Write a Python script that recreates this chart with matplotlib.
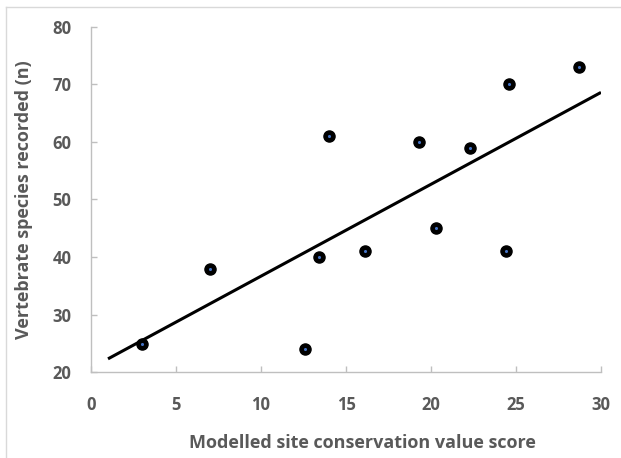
import numpy as np
import matplotlib
matplotlib.use("Agg")
import matplotlib.pyplot as plt
from matplotlib.lines import Line2D

# data
score = [3.0, 7.0, 12.6, 13.4, 14.0, 16.1, 19.3, 20.3, 22.3, 24.4, 24.6, 28.7]
species = [25, 38, 24, 40, 61, 41, 60, 45, 59, 41, 70, 73]
x_ticks = [0, 5, 10, 15, 20, 25, 30]
y_ticks = [20, 30, 40, 50, 60, 70, 80]

plt.rcParams["font.family"] = ["Open Sans", "DejaVu Sans"]
text_col = "#595959"
axis_col = "#BFBFBF"

fig = plt.figure(figsize=(6.21, 4.58), dpi=100)
ax = fig.add_axes([91 / 621, 1 - 372.3 / 458, 510 / 621, (372.3 - 26.7) / 458])

# trend line (least squares), drawn from x=1 to x=30
slope, intercept = np.polyfit(score, species, 1)
xs = np.array([1, 30])
ax.plot(xs, slope * xs + intercept, color="black", lw=2.2, solid_capstyle="butt", zorder=2)

ax.scatter(score, species, s=64, color="black", zorder=3)
ax.scatter(score, species, s=1.5, color="#4472C4", zorder=4)

ax.set_xlim(0, 30)
ax.set_ylim(20, 80)
ax.set_xticks(x_ticks)
ax.set_yticks(y_ticks)

for side in ["top", "right"]:
    ax.spines[side].set_visible(False)
for side in ["left", "bottom"]:
    ax.spines[side].set_color(axis_col)
    ax.spines[side].set_linewidth(1)

ax.tick_params(direction="in", length=4, width=1, color=axis_col,
               labelsize=12, labelcolor=text_col)
for lab in ax.get_xticklabels() + ax.get_yticklabels():
    lab.set_fontweight("bold")
ax.tick_params(axis="y", pad=14)
ax.tick_params(axis="x", pad=17)

ax.set_xlabel("Modelled site conservation value score", fontsize=13,
              fontweight="bold", color=text_col, va="center")
ax.xaxis.set_label_coords(0.533, -0.205)
ax.set_ylabel("Vertebrate species recorded (n)", fontsize=13,
              fontweight="bold", color=text_col, labelpad=14)

# light border round the chart area
W, H = 621, 458
fig.add_artist(Line2D([5.5 / W, 5.5 / W], [0, 1 - 7 / H], transform=fig.transFigure,
                      color="#D9D9D9", lw=1))
fig.add_artist(Line2D([5.5 / W, 1], [1 - 7 / H, 1 - 7 / H], transform=fig.transFigure,
                      color="#D9D9D9", lw=1))

fig.savefig("out.png", dpi=100)
